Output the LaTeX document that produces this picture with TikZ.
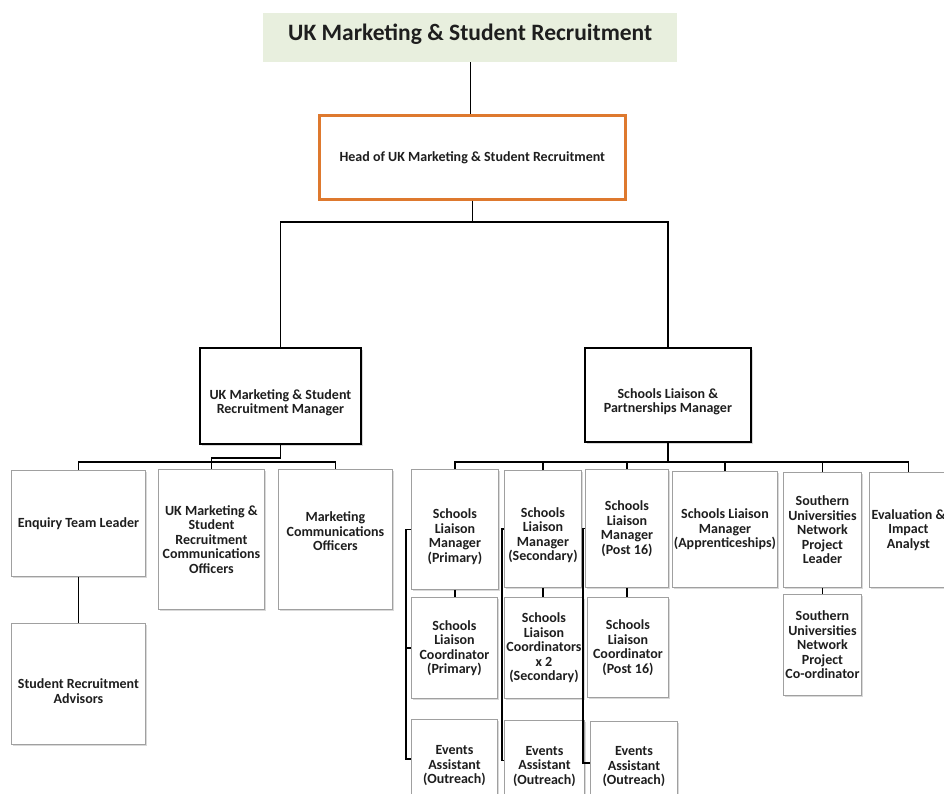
\documentclass[tikz,border=0pt]{standalone}
\usepackage{fontspec}
\setmainfont{Carlito}
\usetikzlibrary{shadows}
\definecolor{titlefill}{RGB}{232,239,222}
\definecolor{headorange}{RGB}{222,121,46}
\definecolor{leafgray}{RGB}{160,160,160}
\definecolor{ink}{RGB}{30,30,30}
\begin{document}
\begin{tikzpicture}[x=1pt,y=-1pt,
  txt/.style={align=center, inner sep=0pt, text=ink,
    font=\bfseries\fontsize{14}{14.5}\selectfont},
  base/.style={txt, rectangle, anchor=north west},
  leaf/.style={base, draw=leafgray, line width=0.9pt, fill=white,
    drop shadow={shadow xshift=1.6pt, shadow yshift=-1.6pt, fill=black!15, opacity=1}},
  mgr/.style={base, draw=black, line width=1.8pt, fill=white,
    drop shadow={shadow xshift=1.6pt, shadow yshift=-1.6pt, fill=black!15, opacity=1}},
  headbox/.style={base, draw=headorange, line width=2.6pt, fill=white,
    drop shadow={shadow xshift=1.6pt, shadow yshift=-1.6pt, fill=black!12, opacity=1}},
  titlebox/.style={base, fill=titlefill},
  titletxt/.style={txt, font=\bfseries\fontsize{23.5}{26}\selectfont},
  link/.style={draw=black, line width=1.4pt},
]
\useasboundingbox (0,0) rectangle (944,794);

% top of the chart
\node[titlebox, minimum width=414, minimum height=49,
  label={[titletxt, yshift=3pt]center:{UK Marketing \& Student Recruitment}}]
  (title) at (263,13) {};
\node[headbox, minimum width=306, minimum height=84] (head) at (318,114)
  {Head of UK Marketing \& Student Recruitment};

% the two managers
\node[mgr, minimum width=161, minimum height=96,
  label={[txt, yshift=-7pt]center:{UK Marketing \& Student\\Recruitment Manager}}]
  (lmgr) at (199,347) {};
\node[mgr, minimum width=166, minimum height=94,
  label={[txt, yshift=-7pt]center:{Schools Liaison \&\\Partnerships Manager}}]
  (rmgr) at (584,347) {};

% marketing team
\node[leaf, minimum width=134, minimum height=106] (etl) at (11,470) {Enquiry Team Leader};
\node[leaf, minimum width=134, minimum height=121,
  label={[txt, yshift=-7pt]center:{Student Recruitment\\Advisors}}] (sra) at (11,623) {};
\node[leaf, minimum width=106, minimum height=140] (umc) at (158,469)
  {UK Marketing \&\\Student\\Recruitment\\Communications\\Officers};
\node[leaf, minimum width=114, minimum height=140,
  label={[txt, yshift=8pt]center:{Marketing\\Communications\\Officers}}] (mco) at (278,469) {};

% schools liaison team
\node[leaf, minimum width=87, minimum height=120,
  label={[txt, yshift=-7pt]center:{Schools\\Liaison\\Manager\\(Primary)}}] (slmP) at (411,469) {};
\node[leaf, minimum width=77, minimum height=117,
  label={[txt, yshift=-6pt]center:{Schools\\Liaison\\Manager\\(Secondary)}}] (slmS) at (504,470) {};
\node[leaf, minimum width=83, minimum height=118] (slmT) at (585,469) {Schools\\Liaison\\Manager\\(Post 16)};
\node[leaf, minimum width=105, minimum height=116] (slmA) at (672,471) {Schools Liaison\\Manager\\(Apprenticeships)};
\node[leaf, minimum width=78, minimum height=115] (sunL) at (783,472) {Southern\\Universities\\Network\\Project\\Leader};
\node[leaf, minimum width=78, minimum height=115] (eia) at (869,472) {Evaluation \&\\Impact\\Analyst};

\node[leaf, minimum width=86, minimum height=101] (slcP) at (411,597) {Schools\\Liaison\\Coordinator\\(Primary)};
\node[leaf, minimum width=79, minimum height=101] (slcS) at (504,597) {Schools\\Liaison\\Coordinators\\x 2\\(Secondary)};
\node[leaf, minimum width=81, minimum height=100] (slcT) at (587,597) {Schools\\Liaison\\Coordinator\\(Post 16)};
\node[leaf, minimum width=78, minimum height=101] (sunC) at (783,594) {Southern\\Universities\\Network\\Project\\Co-ordinator};

\node[leaf, minimum width=86, minimum height=93] (evP) at (411,719) {Events\\Assistant\\(Outreach)};
\node[leaf, minimum width=80, minimum height=92] (evS) at (504,720) {Events\\Assistant\\(Outreach)};
\node[leaf, minimum width=87, minimum height=91] (evT) at (590,721) {Events\\Assistant\\(Outreach)};

% bus levels and bracket columns
\coordinate (busTop) at (0,222);
\coordinate (busL0) at (0,458);
\coordinate (busL) at (0,462);
\coordinate (busR) at (0,462);
\coordinate (brP) at (406,0);
\coordinate (brS) at (502,0);
\coordinate (brT) at (583,0);

% connectors
\draw[link] (title.south) -- (title.south |- head.north);
\draw[link] (head.south) -- (head.south |- busTop);
\draw[link] (lmgr.north) |- (head.south |- busTop) -| (rmgr.north);

\draw[link] (lmgr.south) |- (umc.north |- busL0) -- (umc.north);
\draw[link] (etl.north) |- (mco.north |- busL) -- (mco.north);
\draw[link] (etl.south) -- (sra.north);

\draw[link] (rmgr.south) -- (rmgr.south |- busR);
\draw[link] (slmP.north) |- (eia.north |- busR) -- (eia.north);
\foreach \n in {slmS, slmT, slmA, sunL}
  \draw[link] (\n.north) -- (\n.north |- busR);

\draw[link] (slmP.south) -- (slmP.south |- slcP.north);
\draw[link] (slmS.south) -- (slmS.south |- slcS.north);
\draw[link] (slmT.south) -- (slmT.south |- slcT.north);
\draw[link] (sunL.south) -- (sunC.north);

\draw[link] (slmP.west) -- (slmP.west -| brP) |- ([yshift=7pt]evP.west);
\draw[link] (slcP.west -| brP) -- (slcP.west);
\draw[link] (slmS.west) -- (slmS.west -| brS) |- ([yshift=6pt]evS.west);
\draw[link] (slmT.west) -- (slmT.west -| brT) |- ([yshift=4pt]evT.west);
\end{tikzpicture}
\end{document}
